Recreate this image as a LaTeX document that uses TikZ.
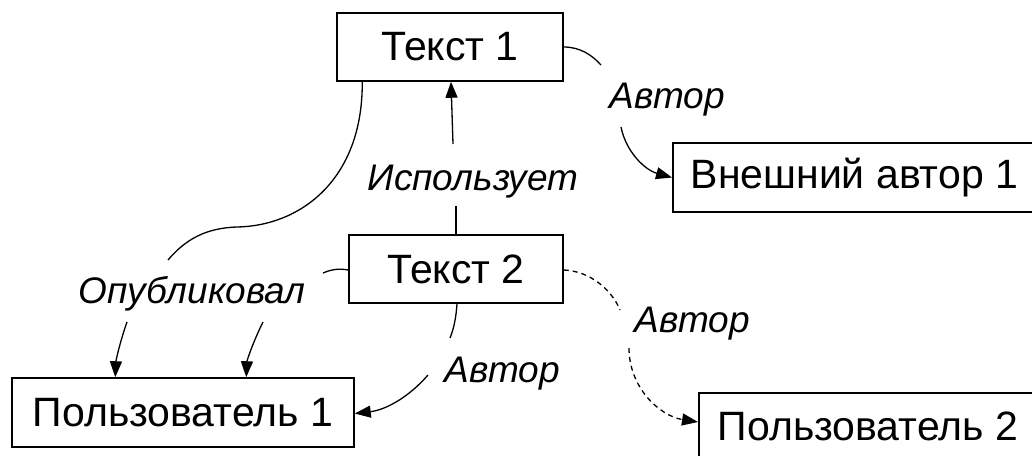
\documentclass[tikz,border=0pt]{standalone}
\usepackage{fontspec}
\setmainfont{Liberation Sans}
\usetikzlibrary{arrows.meta}

\tikzset{
  box/.style={draw, line width=1.5pt, minimum height=68pt, inner xsep=18pt,
              inner ysep=0pt, font=\fontsize{41}{45}\selectfont},
  lbl/.style={anchor=base, inner sep=0pt, font=\fontsize{37}{40}\selectfont\itshape},
  edge/.style={line width=1.3pt},
  arr/.style={edge, -{Triangle[length=16pt,width=12pt]}},
  dashedge/.style={edge, dash pattern=on 5pt off 4pt},
}

\begin{document}
\begin{tikzpicture}[x=1pt, y=-1pt]
\useasboundingbox (0,0) rectangle (1032,455);

% entities
\node[box, minimum width=226pt] (t1) at (450,47) {Текст 1};
\node[box, minimum width=214pt] (t2) at (456,269) {Текст 2};
\node[box, minimum width=342pt, minimum height=69pt] (u1) at (183,412.5) {Пользователь 1};
\node[box, anchor=west, minimum height=69pt] (ext) at (672,177.5) {Внешний автор 1};
\node[box, anchor=north west, inner xsep=19pt] (u2) at (698,392) {Пользователь 2};

% relation labels
\node[lbl] (lAuthExt) at (667,108) {Автор};
\node[lbl] (lUses) at (473,190) {Использует};
\node[lbl] (lPub) at (192,303) {Опубликовал};
\node[lbl] (lAuthU1) at (502,382) {Автор};
\node[lbl] (lAuthU2) at (692,332) {Автор};

% ends of the line pieces on either side of each label
\coordinate (e1a) at (601,65);  \coordinate (e1b) at (621,127);
\coordinate (e2a) at (456,206); \coordinate (e2b) at (453,144);
\coordinate (e3a) at (168,260); \coordinate (e3b) at (127,322);
\coordinate (e4a) at (323,273); \coordinate (e4b) at (263,322);
\coordinate (e5a) at (450,338); \coordinate (e5b) at (428,375);
\coordinate (e6a) at (620,310); \coordinate (e6b) at (629,348);

% Текст 1 -> Внешний автор 1
\draw[edge] (t1.east) .. controls (580,47) and (592,55) .. (e1a);
\draw[arr] (e1b) .. controls (626,152) and (645,170) .. (ext.west);

% Текст 2 -> Текст 1
\draw[edge] (t2.north) -- (e2a);
\draw[arr] (e2b) -- ([xshift=1pt]t1.south);

% Текст 1 -> Пользователь 1
\draw[edge] ([xshift=26pt]t1.south west) .. controls (363,180) and (300,226) .. (237,227)
            .. controls (205,228) and (185,240) .. (e3a);
\draw[arr] (e3b) .. controls (120,342) and (116,360) .. ([xshift=104pt]u1.north west);

% Текст 2 -> Пользователь 1 (published)
\draw[edge] ([yshift=-1pt]t2.west) .. controls (338,268) and (330,270) .. (e4a);
\draw[arr] (e4b) .. controls (254,340) and (247,360) .. ([xshift=235pt]u1.north west);

% Текст 2 -> Пользователь 1 (author)
\draw[edge] ([xshift=1pt]t2.south) .. controls (456,318) and (454,328) .. (e5a);
\draw[arr] (e5b) .. controls (408,398) and (385,410) .. ([yshift=-1pt]u1.east);

% Текст 2 -> Пользователь 2 (dashed)
\draw[dashedge] ([yshift=-1pt]t2.east) .. controls (590,271) and (612,290) .. (e6a);
\draw[dashedge, -{Triangle[length=16pt,width=12pt]}] (e6b) .. controls (629,388) and (660,416) .. ([yshift=-30pt]u2.north west);
\end{tikzpicture}
\end{document}
